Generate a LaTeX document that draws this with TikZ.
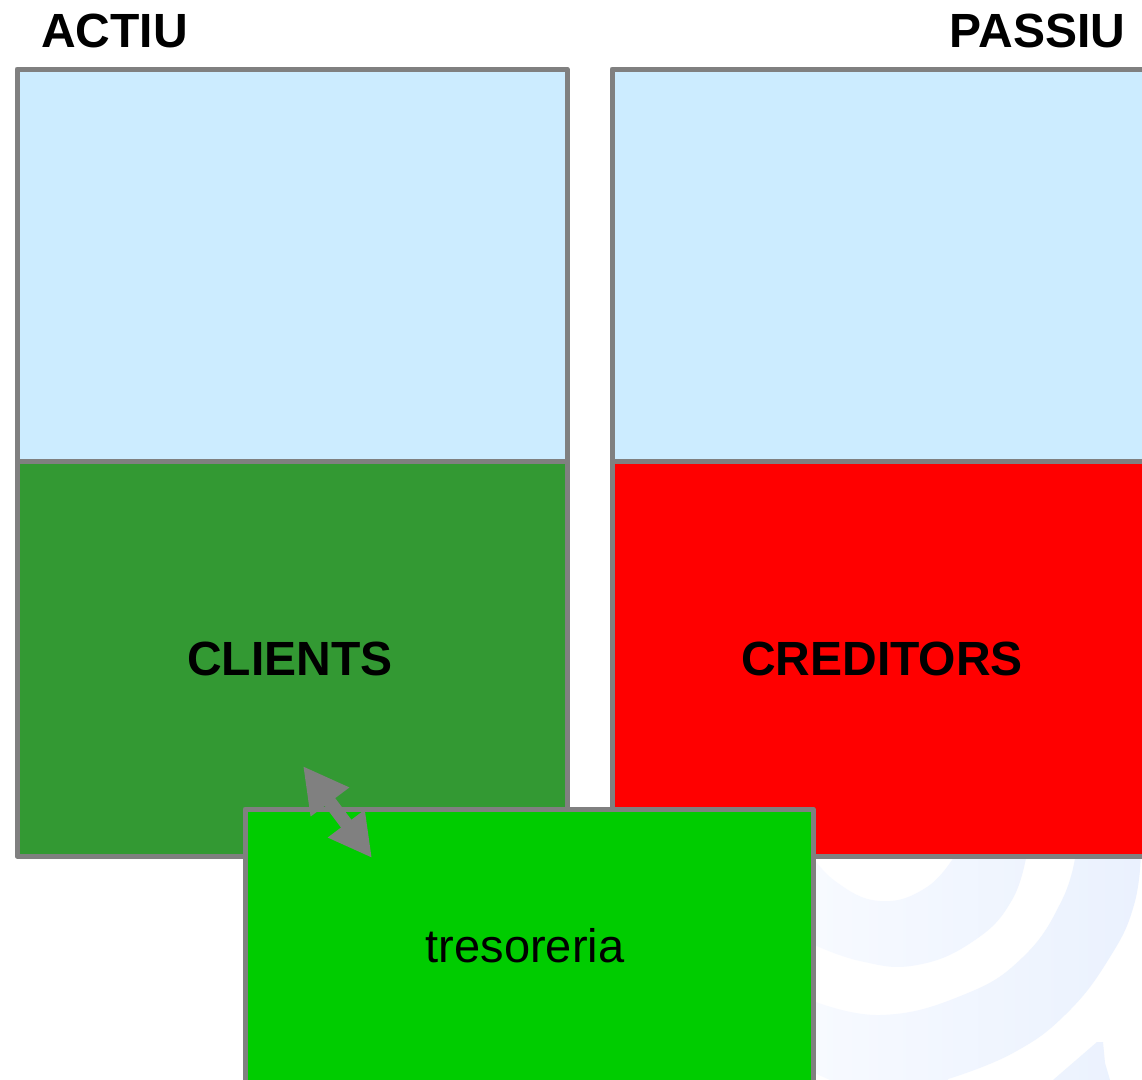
\documentclass[tikz,border=0pt]{standalone}
\usepackage{fontspec}
\setmainfont{Liberation Sans}
\usetikzlibrary{arrows.meta}
\definecolor{skyb}{HTML}{CCECFF}
\definecolor{dgreen}{HTML}{339933}
\definecolor{bgreen}{HTML}{00CC00}
\definecolor{edgegray}{HTML}{808080}
\definecolor{wmA}{HTML}{F7FAFF}
\definecolor{wmB}{HTML}{EAF1FE}
\tikzset{
  panel/.style={draw=edgegray,line width=5pt,line join=round,inner sep=0pt,outer sep=0pt,minimum width=#1},
  panel/.default=550pt,
  boldlabel/.style={font=\fontsize{48}{50}\selectfont\bfseries,text=black,inner sep=0pt},
  pluslabel/.style={font=\fontsize{47}{50}\selectfont,text=black,inner sep=0pt},
  arc/.style={smooth,tension=0.75}
}
\begin{document}
\begin{tikzpicture}[x=1pt,y=-1pt]
\useasboundingbox (0,0) rectangle (1142,1079);
\clip (0,0) rectangle (1142,1079);
\fill[white] (0,0) rectangle (1142,1079);
% watermark
\begin{scope}
\clip plot[arc] coordinates {(957,852) (927,887) (880,901) (835,881) (808,850)}
  -- (808,942) -- plot[arc] coordinates {(808,942) (860,961) (917,965) (975,940) (1012,900) (1027,852)} -- cycle
  plot[arc] coordinates {(1076,852) (1062,900) (1023,957) (963,995) (880,1015) (808,999)}
  -- (808,1070) -- (830,1080) -- (948,1080) -- plot[arc] coordinates {(948,1079) (1013,1053) (1067,1013) (1110,957) (1134,905) (1141,852)} -- cycle
  (1053,1080) -- (1097,1042) -- (1103,1042) -- (1105,1063) -- (1110,1080) -- cycle;
\shade[left color=wmA,right color=wmB] (814,850) rectangle (1142,1080);
\end{scope}
% panels
\node[panel,fill=skyb,minimum height=392pt] (assetTop) at (292,265) {};
\node[panel,fill=dgreen,minimum height=395pt] (clients) at (292,658.5) {};
\node[panel=540pt,fill=skyb,minimum height=392pt] (liabTop) at (882,265) {};
\node[panel=540pt,fill=red,minimum height=395pt] (creditors) at (882,658.5) {};
\node[panel=568pt,fill=bgreen,minimum height=290pt] (treasury) at (529,954) {};
% labels
\node[boldlabel] (actiu) at (114.5,31) {ACTIU};
\node[boldlabel] (passiu) at (1037.5,31) {PASSIU};
\node[boldlabel] (clientsText) at (290,659) {CLIENTS};
\node[boldlabel] (creditorsText) at (882,659) {CREDITORS};
\node[pluslabel] (treasuryText) at (525,946) {tresoreria};
% double arrow
\coordinate (arrowA) at (303,766);
\coordinate (arrowB) at (372,858);
\draw[edgegray,line width=13pt,{Triangle[length=45pt,width=45pt]}-{Triangle[length=43pt,width=43pt]}] (arrowA) -- (arrowB);
\end{tikzpicture}
\end{document}
